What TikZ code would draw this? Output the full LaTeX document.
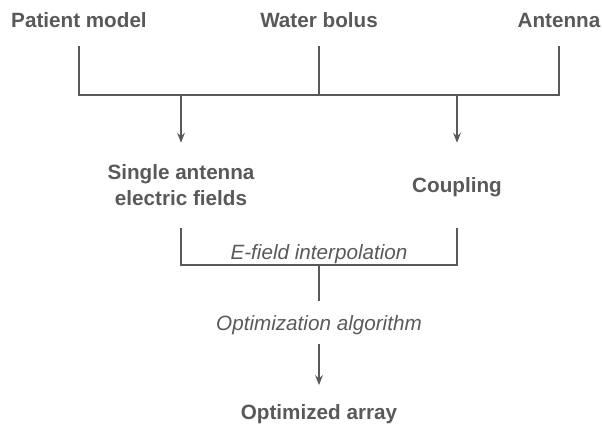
\documentclass[tikz,border=0pt]{standalone}
\usepackage{fontspec}
\setmainfont{Liberation Sans}
\usetikzlibrary{arrows.meta, positioning}
\definecolor{ink}{HTML}{595959}

\begin{document}
\begin{tikzpicture}[
    x=0.75pt, y=-0.75pt,
    term/.style={font=\fontsize{15.5}{19.5}\selectfont\bfseries, text=ink, inner xsep=0pt, inner ysep=14pt, text depth=0pt, anchor=base},
    stage/.style={font=\fontsize{15.5}{19.5}\selectfont\bfseries, text=ink, align=center, inner sep=0pt, minimum height=63.75pt},
    process/.style={font=\fontsize{15.5}{19.5}\selectfont\itshape, text=ink, inner xsep=0pt, inner ysep=10pt, text depth=0pt, anchor=base},
    line/.style={draw=ink, line width=0.8pt},
    arrow/.style={line, -{Stealth[length=7.5pt, width=5.8pt, inset=2.5pt]}}
]
\useasboundingbox (0,0) rectangle (603,426);

% Inputs
\node[term] (patient) at (79,27) {Patient model};
\node[term] (bolus) at (319,27) {Water bolus};
\node[term] (antenna) at (559,27) {Antenna};

% Intermediate results
\node[stage] (fields) at (181,185.5) {Single antenna\\electric fields};
\node[stage, text depth=0pt] (coupling) at (457,185.5) {Coupling};

% Processing steps and output
\node[process] (interp) at (319,259) {E-field interpolation};
\node[process] (optim) at (319,330) {Optimization algorithm};
\node[term] (array) at (319,419) {Optimized array};

\coordinate (split) at (319,95);
\coordinate (merge) at (319,265);

% Connections
\path[line] (patient.south) |- (split) -| (antenna.south);
\path[line] (bolus) -- (split);
\path[arrow] (split -| fields) -- (fields);
\path[arrow] (split -| coupling) -- (coupling);
\path[line] (fields.south) |- (merge) -| (coupling.south);
\path[line] (merge) -- (optim);
\path[arrow] (optim) -- (array);

\end{tikzpicture}
\end{document}
